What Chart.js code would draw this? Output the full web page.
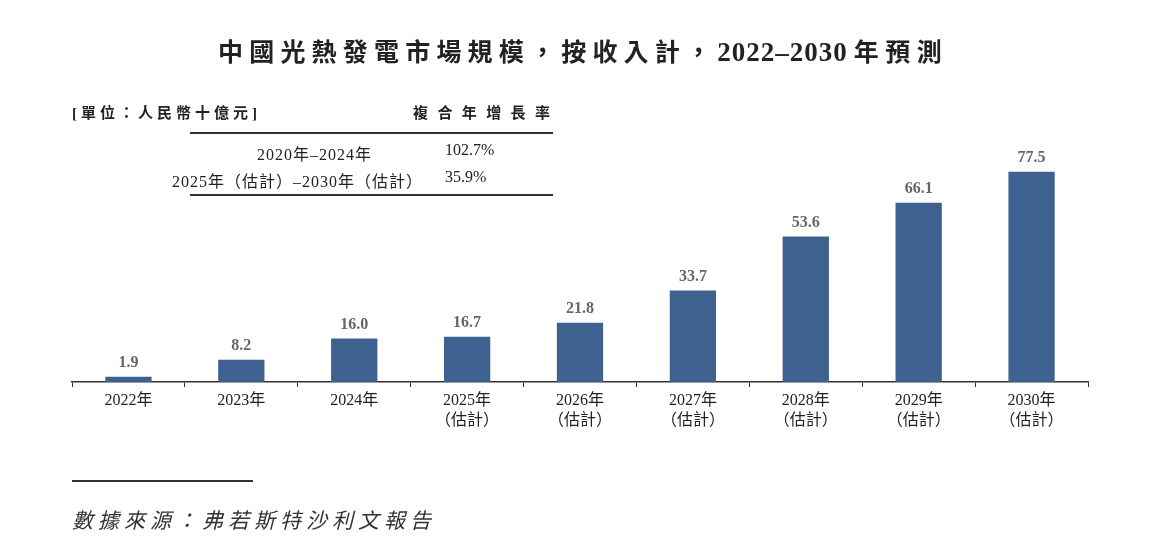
<!DOCTYPE html>
<html>
<head>
<meta charset="utf-8">
<script src="https://cdn.jsdelivr.net/npm/chart.js@4/dist/chart.umd.min.js"></script>
<style>
  body { margin: 0; background: #fff; }
  #wrap { position: relative; width: 1154px; height: 550px; overflow: hidden; font-family: "Liberation Serif", "Noto Sans CJK TC", serif; color: #222; }
  #marketChart { position: absolute; left: 0; top: 0; }
  .txt { position: absolute; white-space: nowrap; }
  #title { left: 218px; top: 32px; font-size: 25px; font-weight: bold; }
  #title .cjk { letter-spacing: 6.2px; }
  #title .yrs { font-size: 27px; letter-spacing: 1px; }
  #title .tail { letter-spacing: 6.5px; margin-left: 6px; }
  #unit { left: 72px; top: 101px; font-size: 15px; font-weight: bold; letter-spacing: 4px; }
  #cagrHead { left: 413px; top: 101px; font-size: 15px; font-weight: bold; letter-spacing: 9.4px; }
  .rule { position: absolute; background: #333; }
  .row { position: absolute; font-size: 16px; letter-spacing: 1px; }
  .pct { position: absolute; font-size: 16px; }
  #source { left: 72px; top: 504px; font-size: 21px; font-style: italic; letter-spacing: 5px; color: #333; }
</style>
</head>
<body>
<div id="wrap">
  <canvas id="marketChart" width="1154" height="550"></canvas>
  <div class="txt" id="title"><span class="cjk">中國光熱發電市場規模，按收入計，</span><span class="yrs">2022–2030</span><span class="tail">年預測</span></div>
  <div class="txt" id="unit">[單位：人民幣十億元]</div>
  <div class="txt" id="cagrHead">複合年增長率</div>
  <div class="rule" style="left:190px; top:132px; width:363px; height:2px;"></div>
  <div class="row" style="left:257px; top:141px;">2020年–2024年</div>
  <div class="pct" style="left:445px; top:141px;">102.7%</div>
  <div class="row" style="left:172px; top:168px;">2025年（估計）–2030年（估計）</div>
  <div class="pct" style="left:445px; top:168px;">35.9%</div>
  <div class="rule" style="left:190px; top:194px; width:363px; height:2px;"></div>
  <div class="rule" style="left:72px; top:480px; width:181px; height:2px;"></div>
  <div class="txt" id="source">數據來源：弗若斯特沙利文報告</div>
</div>
<script>
let years = ['2022年', '2023年', '2024年', '2025年', '2026年', '2027年', '2028年', '2029年', '2030年'];
let estimated = [false, false, false, true, true, true, true, true, true];
let marketSize = [1.9, 8.2, 16.0, 16.7, 21.8, 33.7, 53.6, 66.1, 77.5];

let labels = years.map((y, i) => estimated[i] ? [y, '（估計）'] : y);

let valueLabels = {
    id: 'valueLabels',
    afterDatasetsDraw(chart) {
        let ctx = chart.ctx;
        let meta = chart.getDatasetMeta(0);
        ctx.save();
        ctx.font = 'bold 16px "Liberation Serif", serif';
        ctx.fillStyle = '#666';
        ctx.textAlign = 'center';
        ctx.textBaseline = 'bottom';
        meta.data.forEach((bar, i) => {
            ctx.fillText(marketSize[i].toFixed(1), bar.x, bar.y - 6);
        });
        ctx.restore();
    }
};

let ctx = document.getElementById('marketChart').getContext('2d');

let marketChart = new Chart(ctx, {
    type: 'bar',
    data: {
        labels: labels,
        datasets: [{
            data: marketSize,
            backgroundColor: '#3F6190',
            barPercentage: 0.41,
            categoryPercentage: 1.0,
        }]
    },
    options: {
        responsive: false,
        animation: false,
        layout: {
            padding: { left: 72, right: 66, top: 165, bottom: 108 }
        },
        plugins: {
            legend: { display: false },
            tooltip: { enabled: false },
        },
        scales: {
            y: {
                display: false,
                min: 0,
                max: 80,
            },
            x: {
                afterFit: scale => { scale.height = 60; },
                border: {
                    color: '#333',
                    width: 1.5,
                },
                grid: {
                    offset: true,
                    drawOnChartArea: false,
                    drawTicks: true,
                    tickLength: 5,
                    color: '#333',
                },
                ticks: {
                    color: '#222',
                    padding: 3,
                    maxRotation: 0,
                    autoSkip: false,
                    font: {
                        family: '"Liberation Serif", "Noto Sans CJK TC", serif',
                        size: 16,
                        lineHeight: 1.3,
                    }
                }
            }
        }
    },
    plugins: [valueLabels]
});
</script>
</body>
</html>
